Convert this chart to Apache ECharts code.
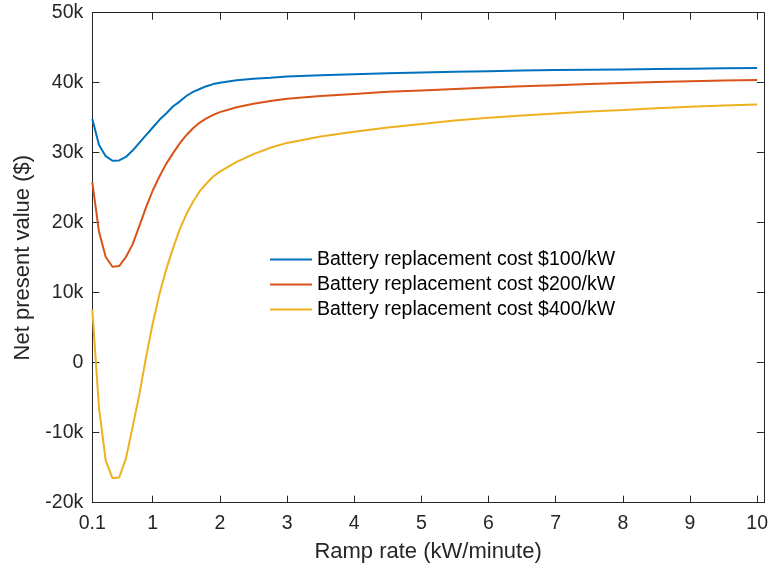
<!DOCTYPE html>
<html>
<head>
<meta charset="utf-8">
<script src="https://cdn.jsdelivr.net/npm/echarts@6/dist/echarts.min.js"></script>
<style>
html,body{margin:0;padding:0;background:#fff;}
#chart{width:771px;height:569px;}
</style>
</head>
<body>
<div id="chart"></div>
<script>
// Ramp rate (kW/minute)
var rampRates = [0.1,0.2,0.3,0.4,0.5,0.6,0.7,0.8,0.9,1.0,1.1,1.2,1.3,1.4,1.5,1.6,1.7,1.8,1.9,2.0,2.25,2.5,2.75,3.0,3.5,4,4.5,5,5.5,6,6.5,7,7.5,8,8.5,9,9.5,10];
// Net present value (k$)
var npv100 = [34.8,31.1,29.5,28.85,28.9,29.4,30.3,31.4,32.5,33.6,34.7,35.6,36.6,37.3,38.1,38.7,39.1,39.5,39.8,40.0,40.35,40.55,40.7,40.9,41.05,41.2,41.35,41.45,41.55,41.65,41.75,41.8,41.85,41.9,41.95,42.0,42.05,42.1];
var npv200 = [25.8,18.7,15.1,13.7,13.8,15.1,16.9,19.5,22.2,24.6,26.6,28.4,29.9,31.3,32.5,33.5,34.3,34.9,35.4,35.8,36.5,37.0,37.4,37.7,38.1,38.4,38.7,38.9,39.1,39.3,39.5,39.65,39.8,39.95,40.1,40.2,40.3,40.4];
var npv400 = [7.6,-6.5,-14.0,-16.5,-16.4,-13.7,-9.2,-4.6,0.8,5.6,9.8,13.3,16.3,19.0,21.2,23.0,24.5,25.6,26.6,27.3,28.7,29.8,30.7,31.4,32.3,33.0,33.6,34.1,34.6,35.0,35.3,35.6,35.9,36.1,36.35,36.55,36.75,36.9];
var seriesNames = ['Battery replacement cost $100/kW','Battery replacement cost $200/kW','Battery replacement cost $400/kW'];
var xTickValues = [0.1,1,2,3,4,5,6,7,8,9,10];
var yTickValues = [-20000,-10000,0,10000,20000,30000,40000,50000];

function pairs(vals){
  return rampRates.map(function(x,i){ return [x, vals[i]*1000]; });
}

var FONT = 'Liberation Sans, Arial, Helvetica, sans-serif';
var AX = '#262626';
var chart = echarts.init(document.getElementById('chart'), null, {renderer:'canvas'});

var xCommon = {
  type:'value', min:0.1, max:10.1,
  axisLine:{show:true, onZero:false, lineStyle:{color:AX, width:1}},
  axisTick:{show:true, inside:true, length:7, customValues:xTickValues, lineStyle:{color:AX}},
  splitLine:{show:false}
};
var yCommon = {
  type:'value', min:-20000, max:50000, interval:10000,
  axisLine:{show:true, onZero:false, lineStyle:{color:AX, width:1}},
  axisTick:{show:true, inside:true, length:7, lineStyle:{color:AX}},
  splitLine:{show:false}
};

var option = {
  animation:false,
  backgroundColor:'#fff',
  textStyle:{fontFamily:FONT},
  grid:{left:92.3, right:7, top:12.7, bottom:66.3, containLabel:false},
  legend:{
    orient:'vertical', left:265, top:242,
    icon:'rect',
    itemWidth:42, itemHeight:2.2, itemGap:0,
    textStyle:{fontFamily:FONT, fontSize:19.5, color:'#000', lineHeight:25},
    data:seriesNames
  },
  xAxis:[
    Object.assign({}, xCommon, {
      position:'bottom',
      name:'Ramp rate (kW/minute)', nameLocation:'middle', nameGap:38,
      nameTextStyle:{fontFamily:FONT, fontSize:22, color:AX},
      axisLabel:{show:true, customValues:xTickValues, margin:11, fontFamily:FONT, fontSize:19.5, color:AX,
        formatter:function(v){ return String(Math.round(v*10)/10); }}
    }),
    Object.assign({}, xCommon, {
      position:'top',
      axisLabel:{show:false}
    })
  ],
  yAxis:[
    Object.assign({}, yCommon, {
      position:'left',
      name:'Net present value ($)', nameLocation:'middle', nameGap:58, nameRotate:90,
      nameTextStyle:{fontFamily:FONT, fontSize:22, color:AX},
      axisLabel:{show:true, margin:9, fontFamily:FONT, fontSize:19.5, color:AX,
        formatter:function(v){ return v===0 ? '0' : (v/1000)+'k'; }}
    }),
    Object.assign({}, yCommon, {
      position:'right',
      axisLabel:{show:false}
    })
  ],
  series:[
    {name:seriesNames[0], type:'line', data:pairs(npv100), symbol:'none', lineStyle:{color:'#0072BD', width:2}, itemStyle:{color:'#0072BD'}},
    {name:seriesNames[1], type:'line', data:pairs(npv200), symbol:'none', lineStyle:{color:'#D95319', width:2}, itemStyle:{color:'#D95319'}},
    {name:seriesNames[2], type:'line', data:pairs(npv400), symbol:'none', lineStyle:{color:'#EDB120', width:2}, itemStyle:{color:'#EDB120'}}
  ]
};
chart.setOption(option);
</script>
</body>
</html>
